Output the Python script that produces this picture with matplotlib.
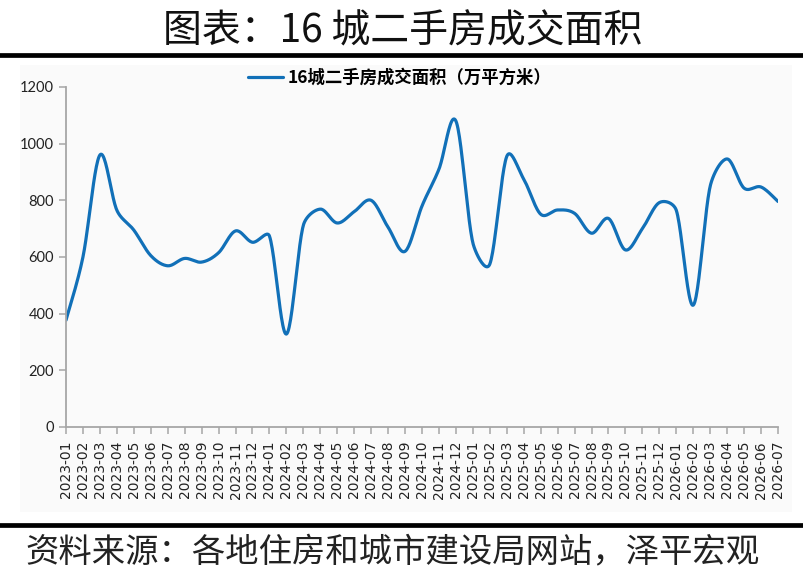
"""16城二手房成交面积 - monthly line chart, Excel-style smoothed line."""

import numpy as np
import matplotlib
matplotlib.use('Agg')
import matplotlib.pyplot as plt
from matplotlib.lines import Line2D
from matplotlib.patches import Rectangle

plt.rcParams['font.family'] = ['Noto Sans CJK SC', 'DejaVu Sans']

########
# Data #
########
months = ['2023-01', '2023-02', '2023-03', '2023-04', '2023-05', '2023-06',
          '2023-07', '2023-08', '2023-09', '2023-10', '2023-11', '2023-12',
          '2024-01', '2024-02', '2024-03', '2024-04', '2024-05', '2024-06',
          '2024-07', '2024-08', '2024-09', '2024-10', '2024-11', '2024-12',
          '2025-01', '2025-02', '2025-03', '2025-04', '2025-05', '2025-06',
          '2025-07', '2025-08', '2025-09', '2025-10', '2025-11', '2025-12',
          '2026-01', '2026-02', '2026-03', '2026-04', '2026-05', '2026-06',
          '2026-07']
area = [377, 600, 960, 765, 695, 605, 569, 595, 582, 615, 692, 652,
        674, 328, 712, 769, 720, 760, 800, 705, 620, 780, 910, 1080,
        650, 575, 955, 875, 751, 766, 754, 684, 736, 625, 700, 792,
        765, 430, 850, 946, 843, 847, 796]
y_ticks = [0, 200, 400, 600, 800, 1000, 1200]

series_name = '16城二手房成交面积（万平方米）'
title = '图表：16 城二手房成交面积'
source = '资料来源：各地住房和城市建设局网站，泽平宏观'

LINE_COLOR = '#1170b8'
AXIS_COLOR = '#a6a6a6'


def smooth(x, y, sx=1.0, sy=1.0, n=24, cap=0.4):
    # Catmull-Rom Bezier (arm = chord/6), arm clamped to a share of the
    # adjacent segment in pixel space to keep overshoot small like Excel
    p = np.column_stack([np.asarray(x, float) * sx, np.asarray(y, float) * sy])
    m = len(p)
    t = np.linspace(0, 1, n, endpoint=False)[:, None]
    out = []
    for i in range(m - 1):
        p0, p3 = p[i], p[i + 1]
        seg = np.hypot(*(p3 - p0))
        a1 = (p3 - p[max(i - 1, 0)]) / 6
        a2 = (p[min(i + 2, m - 1)] - p0) / 6
        a1 *= min(1.0, cap * seg / max(np.hypot(*a1), 1e-9))
        a2 *= min(1.0, cap * seg / max(np.hypot(*a2), 1e-9))
        p1 = p0 + a1
        p2 = p3 - a2
        out.append((1 - t) ** 3 * p0 + 3 * (1 - t) ** 2 * t * p1
                   + 3 * (1 - t) * t ** 2 * p2 + t ** 3 * p3)
    out.append(p[-1:])
    out = np.vstack(out)
    return out[:, 0] / sx, out[:, 1] / sy


########
# Plot #
########
W, H = 804, 585
fig = plt.figure(figsize=(W / 100, H / 100), dpi=100)
fig.patch.set_facecolor('white')

# light chart-area panel
fig.patches.append(Rectangle((20 / W, 1 - 512 / H), 772 / W, 447 / H,
                             transform=fig.transFigure, facecolor='#fafafa',
                             edgecolor='none', zorder=-1))

ax_w, ax_h = 778 - 66, 427 - 87
ax = fig.add_axes([66 / W, 1 - 427 / H, ax_w / W, ax_h / H])
ax.set_facecolor('none')

idx = np.arange(len(months))
ymax = 1200
sx_, sy_ = smooth(idx, area, sx=ax_w / (len(months) - 1), sy=ax_h / ymax)
ax.plot(sx_, sy_, color=LINE_COLOR, lw=2.3, solid_capstyle='round',
        label=series_name)

ax.set_xlim(0, len(months) - 1)
ax.set_ylim(0, ymax)
ax.set_xticks(idx)
ax.set_xticklabels(months, rotation=90, fontsize=10, family='DejaVu Sans',
                   color='#222222')
ax.set_yticks(y_ticks)
ax.set_yticklabels([str(v) for v in y_ticks], fontsize=10.5, family='Lato',
                   color='#222222')

for side in ['top', 'right']:
    ax.spines[side].set_visible(False)
for side in ['left', 'bottom']:
    ax.spines[side].set_color(AXIS_COLOR)
    ax.spines[side].set_linewidth(1.3)
ax.tick_params(axis='x', direction='out', length=5, width=1.1,
               color=AXIS_COLOR, pad=5)
ax.tick_params(axis='y', direction='out', length=5, width=1.1,
               color=AXIS_COLOR, pad=3.5)

ax.legend(loc='center', bbox_to_anchor=(400 / W, 1 - 78 / H),
          bbox_transform=fig.transFigure, frameon=False,
          prop={'size': 12.5, 'weight': 'bold'}, handlelength=2.0,
          handletextpad=0.3, borderpad=0)

# title and separator lines
fig.text(403 / W, 1 - 31 / H, title, ha='center', va='center',
         fontsize=28, color='#111111')
fig.add_artist(Line2D([0, 1], [1 - 55 / H, 1 - 55 / H], color='black',
                      lw=3.4, transform=fig.transFigure))
fig.add_artist(Line2D([0, 1], [1 - 525 / H, 1 - 525 / H], color='black',
                      lw=3.4, transform=fig.transFigure))
fig.text(25 / W, 1 - 553 / H, source, ha='left', va='center',
         fontsize=24, style='italic', weight='light', color='#222222')

fig.savefig('out.png', dpi=100, facecolor='white')
